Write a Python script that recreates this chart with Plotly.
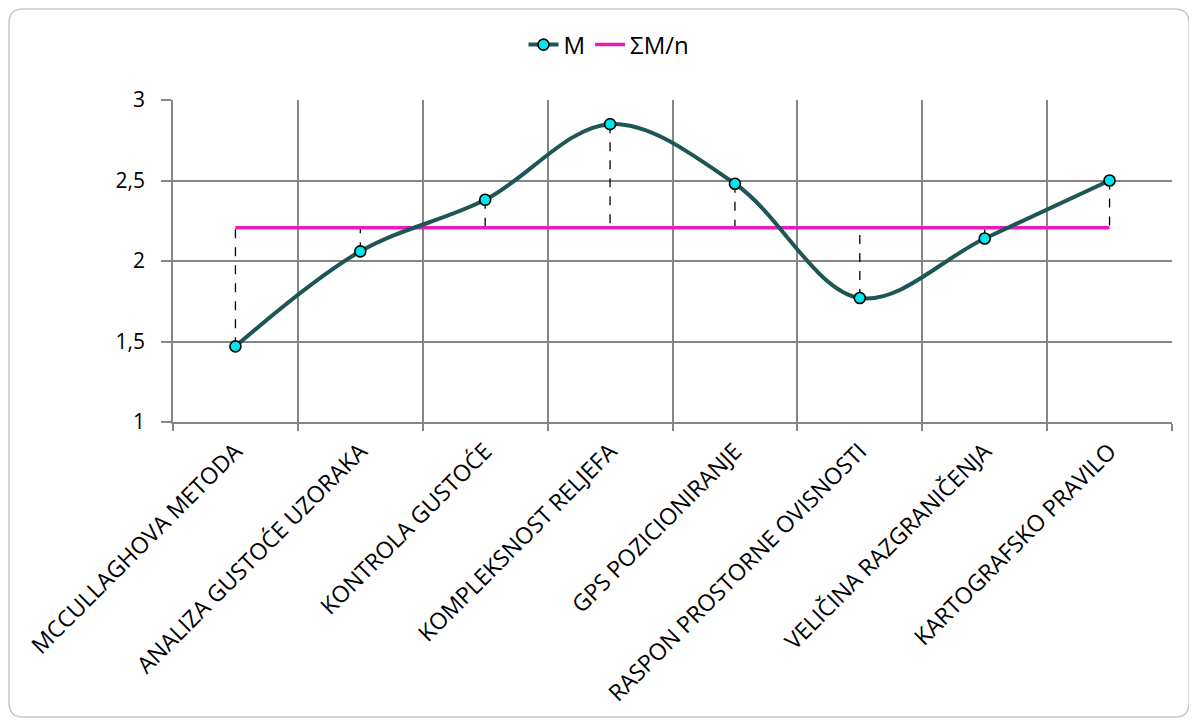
import plotly.graph_objects as go

categories = [
    "MCCULLAGHOVA METODA",
    "ANALIZA GUSTOĆE UZORAKA",
    "KONTROLA GUSTOĆE",
    "KOMPLEKSNOST RELJEFA",
    "GPS POZICIONIRANJE",
    "RASPON PROSTORNE OVISNOSTI",
    "VELIČINA RAZGRANIČENJA",
    "KARTOGRAFSKO PRAVILO",
]
m_values = [1.47, 2.06, 2.38, 2.85, 2.48, 1.77, 2.14, 2.50]
mean_value = sum(m_values) / len(m_values)
mean_values = [mean_value] * len(categories)

W, H = 1197, 726
OFF = 8  # page body margin
L, T = 173 - OFF, 100 - OFF
R = W - (1172 - OFF)
B = H - (422 - OFF)
FONT = "Open Sans"

fig = go.Figure()

dx, dy = [], []
for c, v in zip(categories, m_values):
    dx += [c, c, None]
    dy += [v, mean_value, None]
fig.add_trace(go.Scatter(x=dx, y=dy, mode="lines", showlegend=False, hoverinfo="skip",
                         line=dict(color="black", width=1.3, dash="dash")))

fig.add_trace(go.Scatter(x=categories, y=mean_values, mode="lines", name="ΣM/n",
                         line=dict(color="#EC1AB8", width=3.5)))

fig.add_trace(go.Scatter(x=categories, y=m_values, mode="lines+markers", name="M",
                         line=dict(color="#1D5654", width=4, shape="spline", smoothing=1.0),
                         marker=dict(size=11, color="#00E6EE", line=dict(color="black", width=1.6))))


def px(x):
    return (x - OFF - L) / (W - L - R)


def py(y):
    return (H - B - (y - OFF)) / (H - T - B)


x0, x1, y0, y1, r = 9, 1189, 9, 717, 14
path = (f"M {px(x0 + r)},{py(y0)} L {px(x1 - r)},{py(y0)} Q {px(x1)},{py(y0)} {px(x1)},{py(y0 + r)} "
        f"L {px(x1)},{py(y1 - r)} Q {px(x1)},{py(y1)} {px(x1 - r)},{py(y1)} "
        f"L {px(x0 + r)},{py(y1)} Q {px(x0)},{py(y1)} {px(x0)},{py(y1 - r)} "
        f"L {px(x0)},{py(y0 + r)} Q {px(x0)},{py(y0)} {px(x0 + r)},{py(y0)} Z")
fig.add_shape(type="path", path=path, xref="paper", yref="paper",
              line=dict(color="#C8C8C8", width=1.5), layer="below")

fig.update_layout(
    width=W, height=H,
    margin=dict(l=L, r=R, t=T, b=B),
    paper_bgcolor="white", plot_bgcolor="white",
    separators=", ",
    font=dict(family=FONT, size=20, color="black"),
    legend=dict(orientation="h", x=px(609), xanchor="center", y=py(45), yanchor="middle",
                font=dict(size=24), traceorder="reversed",
                bgcolor="rgba(0,0,0,0)"),
    showlegend=True,
)
grid = "#868686"
fig.update_xaxes(type="category", categoryorder="array", categoryarray=categories,
                 range=[-0.5, len(categories) - 0.5],
                 tickson="boundaries", ticks="outside", ticklen=7, tickcolor=grid, tickwidth=1.5,
                 showgrid=True, gridcolor=grid, gridwidth=1.5,
                 showline=True, linecolor=grid, linewidth=1.5,
                 tickangle=-45, tickfont=dict(size=23), ticklabelstandoff=5, zeroline=False)
fig.update_yaxes(range=[1, 3], dtick=0.5, tick0=1,
                 ticks="outside", ticklen=10, tickcolor=grid, tickwidth=1.5,
                 showgrid=True, gridcolor=grid, gridwidth=1.5,
                 showline=True, linecolor=grid, linewidth=1.5,
                 tickfont=dict(size=21), ticklabelstandoff=12, zeroline=False)

fig.write_html("out.html")
